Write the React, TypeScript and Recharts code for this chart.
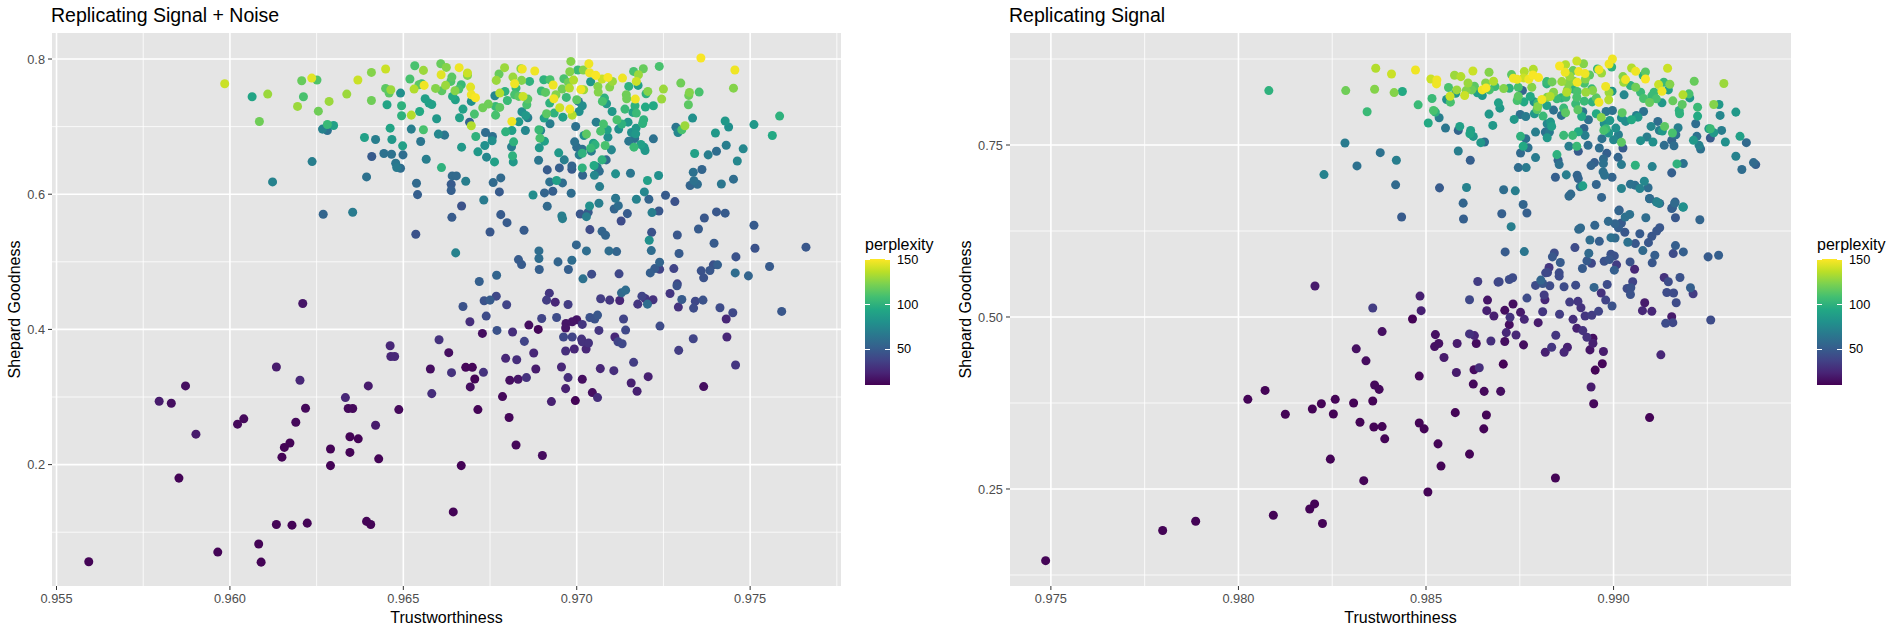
import { ScatterChart, Scatter, XAxis, YAxis, ZAxis, CartesianGrid, Cell, Label } from 'recharts';

type Row = [number, number, number]; // trustworthiness, shepard goodness, perplexity

const legendTicks = [50, 100, 150];
const perplexityMin = 10;
const perplexityMax = 151;

const viridisStops = ['#440154', '#482576', '#414487', '#35608D', '#2A788E', '#21918C', '#22A884', '#43BF71', '#7AD151', '#BBDF27', '#FDE725'];

const noiseXMajor = [0.955, 0.96, 0.965, 0.97, 0.975];
const noiseXMinor = [0.9575, 0.9625, 0.9675, 0.9725, 0.9775];
const noiseYMajor = [0.2, 0.4, 0.6, 0.8];
const noiseYMinor = [0.1, 0.3, 0.5, 0.7];
const signalXMajor = [0.975, 0.98, 0.985, 0.99];
const signalXMinor = [0.9775, 0.9825, 0.9875, 0.9925];
const signalYMajor = [0.25, 0.5, 0.75];
const signalYMinor = [0.125, 0.375, 0.625, 0.875];

// Replicating Signal + Noise, low part of the cloud
const noiseLow: Row[] = [
  [.95593,.0562,11],[.95965,.0706,11],[.96083,.0826,11],[.9609,.0557,11],[.95853,.18,11],[.96134,.1114,11],[.96179,.1104,11],[.96223,.1134,11],[.96394,.116,11],[.96406,.1114,11],[.96644,.13,11],[.96667,.1985,11],[.9615,.211,11],[.96157,.2254,11],[.96173,.232,11],[.9629,.223,11],[.9629,.1985,11],[.96346,.218,11],[.96429,.2085,11],[.96825,.229,12],[.96901,.2134,14],
  [.9621,.4384,18],[.96462,.3759,25],[.96464,.36,25],[.96475,.36,25],[.96134,.3444,20],[.96202,.3247,25],[.95872,.3164,15],[.96399,.3164,20],[.95796,.2937,20],[.95831,.2908,15],[.96333,.2991,25],[.96218,.2834,13],[.96341,.2829,13],[.96354,.2829,13],[.96487,.2814,13],[.9604,.2677,13],[.96022,.2598,13],[.9619,.2627,13],[.9642,.2583,20],[.95902,.245,20],[.96346,.2411,11],[.9637,.2381,11],
  [.96651,.5132,72],[.96891,.5161,60],[.96891,.5048,60],[.96832,.5033,50],[.96841,.4959,50],[.96946,.4999,55],[.96986,.5023,60],[.96892,.4886,52],[.96976,.4886,52],[.96999,.525,55],[.97028,.5161,60],[.97093,.5161,60],[.97115,.5151,55],[.97215,.5166,60],[.97209,.5318,80],[.97295,.5122,50],[.97396,.5274,50],[.97514,.52,45],[.97459,.5073,45],[.97556,.493,50],[.97406,.4955,52],[.97394,.4955,45],[.97384,.4871,48],[.97359,.4866,45],[.97366,.4763,45],[.97457,.4836,60],[.97495,.4792,55],[.97239,.4994,55],[.97225,.49,50],[.97212,.4836,52],[.97239,.489,38],[.9728,.49,38],[.97122,.4822,40],[.97043,.4817,42],[.97018,.4748,62],[.96769,.4802,55],[.96719,.4708,52],[.9729,.4674,38],[.97289,.4645,45],[.97269,.4531,32],[.97141,.4581,60],[.97129,.4541,58],[.97188,.4492,38],[.97197,.4458,32],[.9722,.4438,30],[.97176,.4374,32],[.97204,.4374,60],[.97303,.4443,50],[.97342,.4418,40],[.97364,.4433,45],[.97293,.433,30],[.97337,.4315,42],[.97413,.432,42],[.9745,.4246,40],[.97431,.4153,25],[.97591,.4266,48],[.97661,.5217,48],[.97069,.4453,35],[.97095,.4433,32],[.97124,.4428,25],[.96921,.4536,32],[.96913,.4433,35],[.96938,.4403,25],[.96975,.4369,35],[.96768,.4492,40],[.9675,.4433,50],[.96733,.4423,45],[.96798,.4364,38],[.96672,.4339,45],[.96739,.4197,42],[.96692,.4113,28],[.96899,.4162,38],[.96942,.4177,42],[.97038,.4177,45],[.9706,.4212,48],[.97052,.4153,45],[.97135,.4153,38],[.97016,.4074,32],[.97,.4143,18],[.96987,.4113,18],[.96969,.4089,18],[.96968,.402,18],[.96862,.4064,15],[.96889,.4,12],[.96728,.3941,15],[.9677,.3985,45],[.96815,.3961,28],[.97064,.3985,32],[.97141,.399,40],[.9724,.4049,42],[.96962,.3887,40],[.96987,.3887,38],[.97014,.3857,30],[.97016,.3818,30],[.97034,.3798,30],[.9711,.3887,25],[.97119,.3818,38],[.97131,.3788,40],[.96849,.3823,38],[.97433,.3887,25],[.97336,.3862,38],[.97294,.369,35],[.96603,.3847,30],[.96631,.3656,15],[.96876,.3651,25],[.96968,.368,28],[.96993,.371,25],[.97027,.371,25],[.96795,.3572,25],[.96827,.3552,28],[.97164,.3513,35],[.97458,.3474,32],[.96578,.3415,15],[.96639,.336,30],[.9668,.3439,12],[.96699,.3439,12],[.96731,.3365,30],[.96956,.3444,25],[.96882,.3415,20],[.97068,.342,25],[.97107,.339,28],[.96975,.3287,28],[.96855,.3287,30],[.96831,.3262,18],[.96807,.3247,15],[.96706,.3267,11],[.97016,.3262,15],[.97206,.3301,22],[.97157,.3208,22],[.96693,.3149,15],[.96968,.3124,22],[.97174,.3085,22],[.97045,.3065,15],[.9706,.2991,28],[.96582,.305,28],[.96786,.3006,13],[.96927,.2932,22],[.96996,.2947,11],[.97366,.3154,15],[.96715,.2814,11],[.96805,.2696,12],
];

// Replicating Signal + Noise, upper part of the cloud
const noiseHigh: Row[] = [
  [.96533,.7901,110],[.96519,.7704,110],[.96558,.7832,130],[.96608,.7931,118],[.96624,.7876,125],[.96661,.7872,148],[.96609,.7768,145],[.9664,.7733,115],[.96685,.7793,140],[.96685,.7758,125],[.96637,.7669,112],[.96622,.761,130],[.96667,.762,105],[.9656,.761,148],[.96531,.7555,135],[.96553,.7634,105],[.96545,.762,115],[.96593,.7565,125],[.96611,.7531,115],[.96649,.7531,125],[.9666,.7555,110],[.96642,.7447,95],[.9665,.7397,90],[.96694,.7585,145],[.96696,.7471,148],[.96708,.7427,150],[.96696,.7373,80],[.96563,.7412,90],[.96574,.7348,90],[.96582,.7328,90],[.96672,.7259,90],[.96662,.7131,90],[.96705,.7185,110],[.96729,.7279,120],[.96745,.7333,120],[.96766,.7299,105],[.96778,.7284,115],[.96766,.717,110],[.96523,.717,135],[.96547,.7224,95],[.96596,.7116,85],[.96495,.716,100],[.96495,.7308,100],[.96492,.7496,80],[.96691,.7066,55],[.96696,.7012,135],[.96523,.6963,70],[.96558,.6953,110],[.96601,.6889,75],[.96619,.6874,65],[.9655,.678,65],[.96737,.6913,60],[.96757,.6854,62],[.96756,.679,80],[.96709,.6854,100],[.96735,.672,80],[.96668,.6696,85],[.96715,.6627,85],[.9674,.6548,75],[.96763,.6478,90],[.96498,.6716,90],[.96499,.6582,60],[.96566,.6518,70],[.9661,.6394,100],[.96492,.6385,60],[.96641,.6271,58],[.96653,.6271,58],[.96538,.6162,58],[.96638,.6147,50],[.9668,.6192,70],[.96759,.6172,58],[.96781,.6241,58],[.96541,.5994,52],[.96638,.6054,52],[.96777,.6034,50],[.96732,.5915,68],[.96668,.5826,45],[.9664,.5658,50],[.96781,.5698,50],[.96799,.5579,50],[.96536,.5407,45],[.9675,.5441,48],[.96848,.5466,50],
  [.96813,.7076,148],[.96795,.6923,100],[.96813,.6943,90],[.96852,.6943,75],[.96818,.6775,100],[.96812,.6701,70],[.96815,.6567,100],[.96817,.6478,85],[.96792,.7872,130],[.96776,.7778,118],[.96768,.7684,130],[.96764,.7457,75],[.96778,.7496,135],[.96793,.7521,100],[.96816,.7733,130],[.96821,.7634,148],[.96839,.7857,125],[.96843,.7852,148],[.96879,.7822,148],[.96841,.7684,125],[.96864,.7669,100],[.96825,.757,105],[.96821,.7471,110],[.96833,.7447,115],[.968,.7387,105],[.96845,.7447,140],[.96859,.7407,115],[.96856,.7323,110],[.96842,.7219,80],[.96853,.7165,85],[.96859,.7131,70],[.96833,.7071,85],[.96891,.6953,105],[.96896,.6943,75],[.96894,.6829,110],[.96907,.6785,90],[.96892,.6686,85],[.9689,.6503,65],[.96915,.636,50],[.9695,.6389,52],[.96964,.6508,70],[.96948,.6612,85],[.96922,.6182,62],[.96942,.6202,90],[.96959,.6167,60],[.96874,.5989,78],[.96907,.6019,55],[.96931,.6044,52],[.96984,.6014,60],[.96915,.5821,58],[.96957,.5678,70],[.96959,.5639,70],
  [.96905,.7694,100],[.96923,.7694,110],[.96898,.7526,105],[.9691,.7506,115],[.96932,.7615,148],[.9694,.7471,125],[.96934,.7412,148],[.96922,.7348,100],[.9697,.7432,105],[.96951,.7279,140],[.9698,.7259,148],[.96987,.717,135],[.96913,.719,115],[.96935,.72,100],[.96906,.7126,90],[.96923,.7042,70],[.9696,.714,90],[.97007,.7224,80],[.97016,.7308,78],[.97005,.7373,62],[.97,.7397,115],[.96958,.7555,120],[.96979,.757,135],[.96963,.7709,110],[.96976,.7654,120],[.96991,.7689,135],[.97012,.755,148],[.9702,.7545,130],[.9704,.7664,85],[.9698,.7812,125],[.96983,.7965,125],[.97003,.7837,105],[.97019,.7837,125],[.97035,.7931,148],[.97037,.7797,148],[.97055,.7758,150],[.97073,.7704,140],[.9709,.7728,150],[.97103,.7669,130],[.97132,.7718,148],[.97095,.7585,125],[.97061,.7595,125],[.97062,.7511,125],
  [.97164,.7817,110],[.97192,.7857,118],[.97178,.7768,130],[.97238,.7891,110],[.97172,.7669,140],[.97177,.761,90],[.9715,.7595,100],[.97205,.7521,125],[.972,.7486,100],[.9725,.7555,130],[.97245,.7407,130],[.97169,.7407,148],[.97143,.7471,120],[.97144,.7412,120],[.97221,.7308,95],[.97198,.7289,95],[.97139,.7259,105],[.97168,.7308,100],[.9708,.7422,100],[.97074,.7373,110],[.97086,.7338,85],[.97102,.7224,85],[.97162,.721,90],[.97172,.72,105],[.97056,.7066,70],[.97077,.7037,110],[.97116,.7101,110],[.9713,.7037,100],[.97148,.7066,85],[.97193,.7101,100],[.9719,.7047,100],[.97121,.6963,80],[.97171,.6977,85],[.97158,.6913,80],[.9717,.6893,85],[.97069,.6933,110],[.97088,.6953,90],[.9709,.6844,80],[.96997,.7002,62],[.97286,.6992,65],[.97292,.6913,75],[.97312,.7012,130],[.97303,.6953,110],[.97334,.7126,80],[.973,.7644,120],[.97325,.7506,125],[.97323,.7462,120],[.97353,.7511,110],[.97322,.7323,115],[.97358,.8015,150],
  [.9715,.6785,65],[.97167,.6824,62],[.97185,.6735,90],[.97165,.6696,105],[.97194,.6696,85],[.97197,.6646,85],[.97221,.6819,62],[.97028,.6889,115],[.97021,.6869,80],[.97048,.6755,90],[.9704,.6681,105],[.97053,.673,100],[.97082,.6721,110],[.971,.6656,75],[.96994,.6775,62],[.97,.6696,60],[.97016,.6666,62],[.97007,.6582,70],[.97016,.6607,100],[.97042,.6637,70],[.97085,.6508,58],[.97073,.6508,100],[.9705,.6424,95],[.97059,.6399,62],[.96986,.6419,55],[.96986,.637,50],[.97016,.6389,100],[.97017,.6281,55],[.97065,.634,60],[.97051,.6281,75],[.97112,.6301,80],[.97155,.6311,65],[.97066,.6113,70],[.97204,.6202,90],[.97236,.6276,80],[.97195,.6034,75],[.97112,.594,65],[.97208,.5925,55],[.97172,.5925,72],[.97256,.5984,50],[.97283,.5891,45],[.97064,.5866,70],[.97037,.5826,80],[.9712,.5831,60],[.97108,.5782,55],[.97033,.5733,50],[.97028,.5668,70],[.9701,.5708,48],[.97146,.5713,50],[.97217,.5728,70],[.97237,.5752,48],[.97128,.5604,42],[.97038,.5476,42],[.97073,.5451,55],[.97083,.5392,55],[.97216,.5436,45],[.9729,.5397,48],[.97351,.5486,50],[.97336,.6325,62],[.97338,.62,62],[.97327,.6128,55],[.97348,.6147,60],[.9734,.6602,90],
  [.97452,.7569,125],[.97456,.7838,148],[.97428,.7084,85],[.974,.6905,85],[.97438,.6995,80],[.9748,.6671,75],[.97403,.6636,60],[.97431,.6725,70],[.97463,.6492,75],[.97511,.703,85],[.97564,.6869,95],[.97585,.7156,100],[.97417,.6151,65],[.97452,.6223,60],[.97428,.572,50],[.97511,.554,50],[.97361,.6366,55],[.97379,.6582,70],[.97403,.5738,48],[.97368,.5648,48],
  [.95985,.7634,140],[.96064,.7442,92],[.96109,.7481,130],[.96085,.7076,120],[.96123,.6182,72],[.96207,.7679,118],[.96236,.7718,145],[.96251,.7689,112],[.96212,.7442,110],[.96195,.7299,130],[.96255,.7229,120],[.96286,.7373,130],[.96281,.7032,105],[.96267,.6963,72],[.96281,.6943,62],[.96299,.7017,90],[.96237,.6483,70],[.96269,.5703,55],[.96354,.5733,68],[.96337,.7481,130],[.96369,.7689,140],[.96408,.7802,125],[.96408,.7387,120],[.96449,.7852,140],[.96449,.7565,115],[.96464,.7546,130],[.96459,.7496,115],[.96453,.7323,92],[.96462,.6977,92],[.96467,.6809,85],[.96388,.6839,90],[.9642,.6809,70],[.96444,.6602,62],[.96466,.6592,62],[.96409,.6558,50],[.96478,.6459,65],[.96481,.6394,68],[.96394,.6256,62],
];

// Replicating Signal, top band and the teal middle
const signalHigh: Row[] = [
  [.98081,.8291,100],[.98286,.8291,120],[.98366,.8615,135],[.98363,.8311,125],[.98408,.8533,140],[.98415,.8262,125],[.98437,.8277,95],[.98472,.8591,148],[.98479,.8084,105],[.98343,.7983,105],[.98228,.707,72],[.98284,.7529,68],[.98378,.7389,62],[.98421,.7278,70],[.98316,.7196,62],[.98419,.6921,58],[.98513,.846,140],[.98529,.8446,148],[.98528,.8388,148],[.98576,.8513,130],[.98593,.8494,135],[.98625,.8576,140],[.98668,.8557,125],[.9856,.8335,110],[.98582,.8301,130],[.98612,.8402,130],[.98564,.8209,140],[.98579,.8253,85],[.98555,.8161,80],[.98565,.8123,110],[.98516,.8176,105],[.98603,.8219,140],[.98607,.8291,125],[.98629,.8354,115],[.98622,.8301,120],[.9865,.8301,148],[.9866,.833,150],[.98659,.8402,125],[.9868,.8427,135],[.98684,.8349,105],[.98637,.8258,90],[.9865,.8219,85],[.98669,.8301,110],[.98693,.8113,90],[.98697,.8036,85],[.98668,.7949,85],[.98678,.7785,85],[.9852,.8002,110],[.98525,.7978,100],[.98535,.7896,70],[.98506,.7819,95],[.98552,.7746,65],[.98586,.7712,55],[.9859,.777,90],[.98619,.7712,90],[.98617,.7664,92],[.98626,.7625,85],[.98646,.7534,85],[.98656,.7543,60],[.98586,.7413,70],[.98618,.7278,52],[.98536,.6877,50],[.98608,.6882,72],[.98599,.6655,55],
  [.98728,.8523,115],[.98733,.847,148],[.98743,.8456,148],[.98762,.8567,135],[.98786,.86,135],[.9876,.8475,140],[.98774,.8456,148],[.98785,.8518,150],[.988,.848,150],[.98707,.832,125],[.98722,.8325,100],[.98746,.834,110],[.98757,.8292,55],[.98782,.834,125],[.98746,.821,115],[.98743,.8147,110],[.98761,.8127,95],[.98778,.8205,95],[.98788,.8127,80],[.98798,.8113,105],[.98798,.806,125],[.98796,.8016,115],[.98809,.8161,148],[.98789,.7954,85],[.98735,.7872,85],[.98751,.7944,62],[.98766,.7915,68],[.98812,.792,105],[.98822,.8074,90],[.9884,.8007,62],[.98861,.793,62],[.98867,.8036,105],[.98872,.7968,115],[.98823,.8195,125],[.98831,.8205,135],[.9884,.8267,125],[.98849,.8171,105],[.98861,.8185,100],[.98873,.8195,105],[.98822,.8422,105],[.98822,.8388,100],[.98836,.8417,120],[.98862,.8422,130],[.98856,.8649,150],[.98872,.8668,135],[.98871,.8557,148],[.98892,.8581,118],[.98902,.8721,140],[.9892,.8682,125],[.98907,.8567,148],[.98924,.8538,148],[.98883,.8499,130],[.98879,.8398,125],[.98877,.8301,125],[.98875,.8267,135],[.98894,.8427,125],[.98903,.8412,148],[.98891,.8316,100],[.98903,.8277,110],[.98925,.846,125],[.98936,.8518,115],[.98922,.8398,110],[.98926,.8267,130],[.98942,.8316,105],[.98944,.8292,125],[.98902,.8195,110],[.98899,.8098,105],[.98905,.8012,115],[.98922,.8137,105],[.98918,.7983,65],[.98915,.7915,95],[.98933,.7867,62],[.98943,.8127,100],[.98954,.8185,115],[.98961,.8122,148],[.98961,.8595,148],[.98968,.8547,130],[.98957,.8605,105],[.98988,.8678,148],[.98997,.875,148],[.98995,.8634,100],[.98979,.835,148],[.98988,.8263,130],[.98987,.8156,135],[.98996,.8282,85],
  [.99028,.8229,75],[.99025,.8494,125],[.99027,.8412,130],[.99032,.8451,148],[.99048,.862,135],[.99059,.8571,148],[.99085,.8562,115],[.99079,.8509,100],[.99085,.846,150],[.99045,.8364,100],[.99059,.834,120],[.99072,.8267,105],[.9912,.8378,140],[.99134,.8412,105],[.9915,.8383,125],[.99146,.8301,90],[.99129,.8282,148],[.99108,.8267,105],[.99102,.8214,105],[.9908,.8176,110],[.99096,.8118,118],[.99114,.8171,110],[.99129,.8113,85],[.99144,.8615,140],[.99215,.8427,118],[.99294,.8393,130],[.99185,.8229,135],[.99201,.8243,110],[.99203,.8185,85],[.99158,.8142,118],[.99183,.8089,115],[.99267,.8089,125],[.99281,.8089,85],[.99224,.805,105],[.99175,.8002,100],[.99176,.7954,100],[.99224,.792,95],[.99284,.793,75],[.99326,.7978,85],[.99219,.7809,60],[.99258,.7737,105],[.99254,.7737,85],[.99288,.7712,70],[.99267,.7679,85],[.99337,.7626,90],[.99222,.7626,62],[.99258,.7601,50],[.99213,.7568,85],[.99298,.7543,80],[.99354,.7534,58],[.99228,.7495,72],[.99232,.7442,62],[.99326,.7336,72],[.99342,.7143,60],[.99373,.7244,58],[.99379,.7215,52],
  [.99023,.7968,115],[.98997,.8002,62],[.9898,.7987,65],[.98954,.7954,95],[.98967,.7901,125],[.9899,.7857,85],[.99021,.7896,80],[.99032,.7843,78],[.99048,.7867,95],[.99065,.7905,85],[.99061,.793,70],[.9908,.7987,62],[.98975,.7809,80],[.98974,.7712,110],[.9898,.7737,105],[.99006,.7746,80],[.99013,.765,70],[.99,.7577,75],[.99021,.7539,115],[.98987,.7674,85],[.98969,.7592,62],[.98921,.7741,55],[.98924,.764,70],[.98906,.7693,95],[.98891,.764,105],[.98867,.764,105],[.98823,.7809,75],[.98832,.7833,85],[.98835,.777,90],[.98818,.7688,62],[.98829,.7688,68],[.98792,.7688,70],[.98823,.7606,85],[.98752,.7626,100],[.98766,.7592,62],[.98759,.7481,95],[.98772,.7461,62],[.98752,.7384,58],[.98792,.7317,68],[.98746,.7172,60],[.98767,.7172,68],[.98849,.736,100],[.98852,.7278,55],[.98855,.7215,62],[.98881,.7481,70],[.98902,.7481,105],[.98906,.7408,50],[.98932,.7495,60],[.98962,.7457,60],[.98982,.7379,52],[.98973,.7297,58],[.98973,.723,62],[.99012,.7321,55],[.99021,.7215,68],[.99025,.7457,50],[.99072,.7563,80],[.99089,.7616,70],[.99105,.7543,80],[.991,.777,75],[.99118,.7843,60],[.99122,.7712,70],[.99136,.777,115],[.9913,.7703,85],[.99157,.7674,110],[.99172,.7751,70],[.99155,.7568,55],[.99166,.765,62],[.99135,.7495,60],[.99161,.749,60],[.99058,.7206,100],[.99103,.7186,72],[.99169,.7225,100],[.99186,.723,62],[.99155,.7095,52],[.98949,.7244,52],[.9894,.7201,55],[.98874,.7066,70],[.98845,.7032,52],[.98903,.7061,55],[.98906,.7012,55],[.98972,.7109,62],[.98976,.7061,62],[.98996,.7032,55],[.98918,.6906,90],[.98911,.6892,62],[.98954,.6926,55],[.99045,.6931,62],[.99057,.6916,60],[.9907,.6868,72],[.99092,.6878,60],[.99082,.6974,75],[.99021,.6868,72],[.98886,.6786,58],[.98881,.6757,58],[.98968,.6738,55],[.99096,.6723,52],[.99114,.6675,58],[.99123,.6651,55],[.99164,.667,50],[.99157,.6588,52],[.99186,.6598,72],[.98759,.6636,55],[.98738,.6834,70],[.98707,.6849,60],[.99015,.6554,48],
];

// Replicating Signal, blue and purple lower half
const signalLow: Row[] = [
  [.98702,.6501,52],[.98769,.6511,52],[.98727,.6313,70],[.98711,.5946,50],[.98762,.5951,65],[.98842,.5931,42],[.98837,.5874,48],[.98858,.5792,50],[.98897,.6009,42],[.98907,.6274,58],[.98912,.6293,58],[.9895,.6332,55],[.98937,.612,60],[.98962,.61,52],[.98986,.639,58],[.99004,.6356,55],[.99013,.6298,52],[.99021,.6366,50],[.99014,.6544,55],[.99031,.6453,62],[.99043,.6491,62],[.99086,.6443,60],[.9903,.6231,48],[.9907,.6211,50],[.98993,.6153,62],[.99004,.6149,58],[.99038,.6086,62],[.99058,.6067,48],[.99093,.6081,48],[.99102,.6173,48],[.99115,.625,48],[.99123,.6298,48],[.99078,.5965,58],[.9911,.5898,52],[.99103,.5787,48],[.99165,.6443,48],[.99155,.6578,52],[.99163,.6655,58],[.99185,.6597,80],[.9912,.6655,72],[.99115,.667,72],[.99096,.6718,60],[.9923,.6414,55],[.99165,.6038,52],[.99159,.5922,42],[.99186,.5946,52],[.99252,.5874,50],[.9928,.5898,52],[.98934,.5927,58],[.98929,.5816,50],[.98941,.5782,40],[.98917,.5705,50],[.98975,.5811,45],[.98989,.5835,48],[.98993,.5912,45],[.99002,.5888,45],[.99008,.5758,35],[.99002,.5681,52],[.99044,.5801,45],[.99056,.5695,25],
  [.98828,.5719,32],[.98824,.5647,40],[.98819,.5642,40],[.98855,.5642,42],[.98855,.5594,42],[.98806,.5536,55],[.98811,.5487,48],[.98792,.5459,42],[.9883,.5454,42],[.98868,.5439,42],[.98899,.5463,42],[.98948,.543,55],[.98983,.5473,42],[.98967,.5348,30],[.98979,.5246,38],[.98996,.5159,45],[.99051,.5512,38],[.99036,.5415,42],[.99046,.5425,45],[.99045,.5328,45],[.99135,.5574,30],[.99146,.5512,42],[.99177,.5574,45],[.99205,.5425,52],[.99142,.5357,42],[.9916,.5348,42],[.99212,.5338,35],[.99167,.5208,42],[.99083,.5208,20],[.99077,.5092,25],[.99102,.5082,25],[.99155,.5005,20],[.99139,.4908,42],[.99158,.4918,40],[.99259,.4957,42],[.98815,.5319,35],[.98817,.5251,25],[.98769,.5275,42],[.98732,.5188,15],[.9871,.5097,15],[.98752,.5068,20],[.98724,.4995,30],[.98762,.4966,25],[.98722,.4889,15],[.98714,.4773,25],[.9874,.4739,25],[.9871,.4643,15],[.9876,.4595,15],[.98799,.4918,20],[.98811,.5077,32],[.98856,.5039,35],[.98883,.5217,35],[.98905,.5227,32],[.98913,.5135,30],[.98892,.4966,28],[.98924,.5015,32],[.98942,.5024,35],[.9896,.5082,38],[.98902,.4836,22],[.98918,.4802,30],[.98929,.4706,30],[.98945,.4691,15],[.98945,.4619,22],[.98846,.4735,32],[.98877,.4561,22],[.98868,.4488,25],[.98835,.4561,32],[.98818,.4488,22],[.98937,.4522,18],[.98973,.4498,20],[.9897,.432,12],[.98951,.4228,11],[.98706,.4315,11],[.98699,.3919,15],[.9894,.3982,20],[.98947,.374,13],[.99096,.3538,11],[.99126,.445,25],
  [.97486,.1458,11],[.97798,.1897,11],[.97886,.2032,11],[.98093,.2119,11],[.98203,.2283,11],[.9819,.221,11],[.98224,.1998,11],[.98505,.2457,11],[.98334,.2621,11],[.98845,.2659,11],[.98245,.2934,11],[.9854,.2833,11],[.98616,.3007,11],[.98532,.3156,11],[.9839,.3229,11],[.98361,.3402,11],[.98383,.3407,11],[.98324,.347,11],[.98253,.3591,11],[.98125,.3586,11],[.98197,.3663,11],[.98221,.374,11],[.98258,.3803,11],[.98307,.375,11],[.98358,.3779,11],[.98025,.3803,11],[.98071,.3933,11],[.98363,.4011,13],[.98375,.3948,13],[.9834,.4363,14],[.98314,.4537,16],[.98383,.4788,16],[.98482,.4141,12],[.98482,.346,11],[.98495,.3374,11],[.98578,.361,11],[.98661,.3576,11],[.98654,.3374,11],[.98626,.4025,13],[.98655,.3919,13],[.98581,.4194,20],[.98628,.4233,14],[.98642,.4262,28],[.98548,.4411,20],[.98523,.457,16],[.98534,.4614,16],[.98525,.4744,16],[.98583,.4614,20],[.98616,.4754,30],[.98629,.473,25],[.98634,.4614,14],[.98673,.4652,28],
  [.98435,.6453,50],[.986,.6424,52],[.98722,.5545,42],[.98731,.557,42],[.98695,.5512,40],[.98638,.5516,35],[.98692,.5507,38],[.98616,.5251,40],[.98664,.5246,18],[.98484,.5304,22],[.98487,.5092,22],[.98464,.4971,11],[.98662,.5092,22],[.98681,.5015,22],[.98204,.5451,20],[.98358,.5131,35],
];

const noiseRows = [...noiseLow, ...noiseHigh];
const signalRows = [...signalLow, ...signalHigh];

function viridis(p: number) {
  const t = Math.min(1, Math.max(0, (p - perplexityMin) / (perplexityMax - perplexityMin)));
  const pos = t * (viridisStops.length - 1);
  const i = Math.min(viridisStops.length - 2, Math.floor(pos));
  const f = pos - i;
  const a = viridisStops[i];
  const b = viridisStops[i + 1];
  const mix = (k: number) => {
    const u = parseInt(a.slice(k, k + 2), 16);
    const v = parseInt(b.slice(k, k + 2), 16);
    return Math.round(u + (v - u) * f);
  };
  return `rgb(${mix(1)},${mix(3)},${mix(5)})`;
}

const font = '"Liberation Sans", Arial, sans-serif';
const tickStyle = { fill: '#4D4D4D', fontSize: 12.8, fontFamily: font };

type PanelProps = {
  left: number;
  title: string;
  rows: Row[];
  width: number;
  axisWidth: number;
  rightGap: number;
  labelOffset: number;
  xDomain: [number, number];
  yDomain: [number, number];
  xMajor: number[];
  xMinor: number[];
  yMajor: number[];
  yMinor: number[];
  yFormat: (v: number) => string;
};

function Panel(props: PanelProps) {
  const { left, title, rows, width, axisWidth, rightGap, labelOffset, xDomain, yDomain, xMajor, xMinor, yMajor, yMinor, yFormat } = props;
  const points = rows.map(r => ({ trust: r[0], shepard: r[1], perplexity: r[2] })).sort((a, b) => a.perplexity - b.perplexity);
  return (
    <div style={{ position: 'absolute', left, top: 0, width, height: 633 }}>
      <div style={{ position: 'absolute', left: axisWidth - 1, top: 3, fontFamily: font, fontSize: 19.5, lineHeight: '24px', color: '#000', whiteSpace: 'nowrap' }}>{title}</div>
      <ScatterChart width={width} height={633} margin={{ top: 33, right: rightGap, left: 0, bottom: 0 }}>
        <CartesianGrid fill="#E5E5E5" stroke="#fff" strokeWidth={0.8} horizontalValues={yMinor} verticalValues={xMinor} />
        <CartesianGrid stroke="#fff" strokeWidth={1.6} horizontalValues={yMajor} verticalValues={xMajor} />
        <XAxis
          type="number"
          dataKey="trust"
          domain={xDomain}
          ticks={xMajor}
          allowDataOverflow
          height={47}
          axisLine={false}
          tickLine={{ stroke: '#333', strokeWidth: 1 }}
          tickSize={4}
          tickMargin={4}
          tick={tickStyle}
          tickFormatter={(v: number) => v.toFixed(3)}
        >
          <Label value="Trustworthiness" position="insideBottom" offset={10} style={{ fill: '#000', fontSize: 16, fontFamily: font }} />
        </XAxis>
        <YAxis
          type="number"
          dataKey="shepard"
          domain={yDomain}
          ticks={yMajor}
          allowDataOverflow
          width={axisWidth}
          axisLine={false}
          tickLine={{ stroke: '#333', strokeWidth: 1 }}
          tickSize={4}
          tickMargin={3}
          tick={tickStyle}
          tickFormatter={yFormat}
        >
          <Label value="Shepard Goodness" angle={-90} position="insideLeft" offset={labelOffset} style={{ fill: '#000', fontSize: 16, fontFamily: font, textAnchor: 'middle' }} />
        </YAxis>
        <ZAxis range={[50, 50]} />
        <Scatter data={points} isAnimationActive={false}>
          {points.map((p, i) => <Cell key={i} fill={viridis(p.perplexity)} />)}
        </Scatter>
      </ScatterChart>
    </div>
  );
}

function ColorBar({ left }: { left: number }) {
  const barTop = 259;
  const barHeight = 126;
  const gradient = `linear-gradient(to top, ${viridisStops.join(', ')})`;
  return (
    <div style={{ position: 'absolute', left, top: 0, fontFamily: font }}>
      <div style={{ position: 'absolute', left: 0, top: 235, fontSize: 16, lineHeight: '20px', color: '#000' }}>perplexity</div>
      <div style={{ position: 'absolute', left: 0, top: barTop, width: 25, height: barHeight, background: gradient }} />
      {legendTicks.map(v => {
        const y = barTop + barHeight - ((v - perplexityMin) / (perplexityMax - perplexityMin)) * barHeight;
        return (
          <div key={v}>
            <div style={{ position: 'absolute', left: 0, top: y - 0.5, width: 5, height: 1, background: '#fff' }} />
            <div style={{ position: 'absolute', left: 20, top: y - 0.5, width: 5, height: 1, background: '#fff' }} />
            <div style={{ position: 'absolute', left: 32, top: y - 8, fontSize: 12.8, lineHeight: '16px', color: '#000' }}>{v}</div>
          </div>
        );
      })}
    </div>
  );
}

export default function App() {
  return (
    <div style={{ position: 'absolute', left: 0, top: 0, width: 1900, height: 633, background: '#fff', overflow: 'hidden' }}>
      <Panel
        left={0}
        title="Replicating Signal + Noise"
        rows={noiseRows}
        width={960}
        axisWidth={52}
        rightGap={119}
        labelOffset={14}
        xDomain={[0.95487, 0.97762]}
        yDomain={[0.0204, 0.8385]}
        xMajor={noiseXMajor}
        xMinor={noiseXMinor}
        yMajor={noiseYMajor}
        yMinor={noiseYMinor}
        yFormat={(v: number) => v.toFixed(1)}
      />
      <ColorBar left={865} />
      <Panel
        left={950}
        title="Replicating Signal"
        rows={signalRows}
        width={950}
        axisWidth={60}
        rightGap={109}
        labelOffset={15}
        xDomain={[0.97391, 0.99473]}
        yDomain={[0.109, 0.9128]}
        xMajor={signalXMajor}
        xMinor={signalXMinor}
        yMajor={signalYMajor}
        yMinor={signalYMinor}
        yFormat={(v: number) => v.toFixed(2)}
      />
      <ColorBar left={1817} />
    </div>
  );
}
